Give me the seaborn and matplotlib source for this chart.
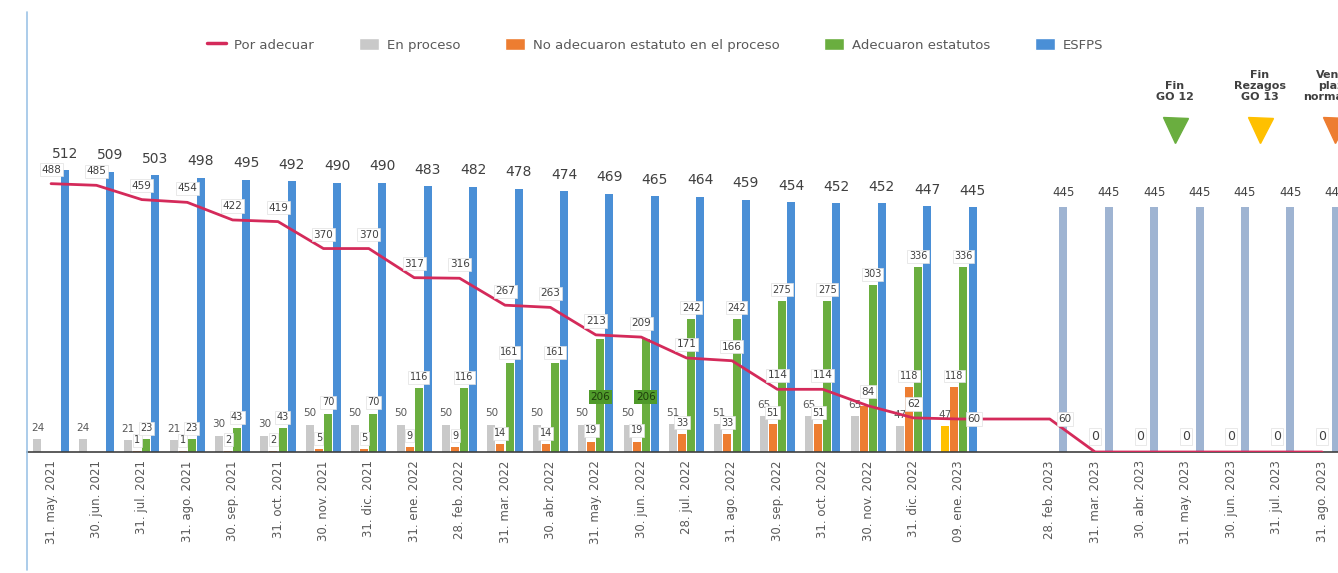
import numpy as np
import pandas as pd
import matplotlib
matplotlib.use("Agg")
import matplotlib.pyplot as plt
import seaborn as sns
from matplotlib.lines import Line2D
from matplotlib.patches import Patch

# ---------------- data ----------------
categories = ["31. may. 2021", "30. jun. 2021", "31. jul. 2021", "31. ago. 2021",
              "30. sep. 2021", "31. oct. 2021", "30. nov. 2021", "31. dic. 2021",
              "31. ene. 2022", "28. feb. 2022", "31. mar. 2022", "30. abr. 2022",
              "31. may. 2022", "30. jun. 2022", "28. jul. 2022", "31. ago. 2022",
              "30. sep. 2022", "31. oct. 2022", "30. nov. 2022", "31. dic. 2022",
              "09. ene. 2023", "", "28. feb. 2023", "31. mar. 2023", "30. abr. 2023",
              "31. may. 2023", "30. jun. 2023", "31. jul. 2023", "31. ago. 2023"]

en_proceso = [24, 24, 21, 21, 30, 30, 50, 50, 50, 50, 50, 50, 50, 50, 51, 51, 65, 65, 65, 47, 47,
              0, 0, 0, 0, 0, 0, 0, 0]
no_adecuaron = [0, 0, 1, 1, 2, 2, 5, 5, 9, 9, 14, 14, 19, 19, 33, 33, 51, 51, 84, 118, 118,
                0, 0, 0, 0, 0, 0, 0, 0]
adecuaron = [0, 0, 23, 23, 43, 43, 70, 70, 116, 116, 161, 161, 206, 206, 242, 242, 275, 275, 303, 336, 336,
             0, 0, 0, 0, 0, 0, 0, 0]
esfps = [512, 509, 503, 498, 495, 492, 490, 490, 483, 482, 478, 474, 469, 465, 464, 459, 454, 452, 452, 447, 445,
         0, 445, 445, 445, 445, 445, 445, 445]
por_adecuar = [488, 485, 459, 454, 422, 419, 370, 370, 317, 316, 267, 263, 213, 209, 171, 166, 114, 114, 84, 62, 60,
               None, 60, 0, 0, 0, 0, 0, 0]

series_names = ["En proceso", "No adecuaron estatuto en el proceso", "Adecuaron estatutos", "ESFPS"]
series_values = [en_proceso, no_adecuaron, adecuaron, esfps]
milestones = ["Fin\nGO 12", "Fin\nRezagos\nGO 13", "Vence\nplazo\nnormativo"]
milestone_pos = [24.76, 26.63, 28.28]

# ---------------- style ----------------
C_GRAY = "#c9c9c9"
C_ORANGE = "#ed7d31"
C_GREEN = "#6aae3f"
C_BLUE = "#4a8fd6"
C_BLUE_LIGHT = "#9fb4d2"
C_YELLOW = "#ffc000"
C_LINE = "#d42a5a"
TXT = "#404040"
palette = [C_GRAY, C_ORANGE, C_GREEN, C_BLUE]

sns.set_theme(style="white")
plt.rcParams["font.family"] = ["DejaVu Sans"]

rows = []
for s, vals in zip(series_names, series_values):
    for c, v in zip(categories, vals):
        rows.append({"fecha": c, "serie": s, "valor": v})
df = pd.DataFrame(rows)

fig = plt.figure(figsize=(13.38, 5.73), dpi=100)
ax = fig.add_axes([27 / 1338, 1 - 452 / 573, 1 - 27 / 1338, 452 / 573])

sns.barplot(data=df, x="fecha", y="valor", hue="serie", order=categories,
            hue_order=series_names, palette=palette, saturation=1, width=0.8, gap=0.12,
            errorbar=None, legend=False, ax=ax)

box_w = dict(boxstyle="square,pad=0.15", fc="white", ec="#e0e0e0", lw=0.5)
box_g = dict(boxstyle="square,pad=0.15", fc="#4f9a2a", ec="none")

for j, cont in enumerate(ax.containers):
    vals = series_values[j]
    for bar in cont:
        cx = bar.get_x() + bar.get_width() / 2
        idx = int(round(cx))
        v = vals[idx]
        bar.set_edgecolor("none")
        if j == 0 and idx == 20:
            bar.set_facecolor(C_YELLOW)
        if j == 3 and idx >= 22:
            bar.set_facecolor(C_BLUE_LIGHT)
        if not v:
            continue
        if j == 3:
            big = idx < 21
            ax.annotate(str(v), (cx, v), xytext=(0, 12 if big else 11), textcoords="offset points",
                        ha="center", va="center", fontsize=10 if big else 8.5, color=TXT)
        elif j == 0:
            ax.annotate(str(v), (cx, v), xytext=(0, 8), textcoords="offset points",
                        ha="center", va="center", fontsize=7.5, color="#595959")
        elif j == 1:
            if idx == 18:
                continue
            ax.annotate(str(v), (cx, v), xytext=(0, 8), textcoords="offset points",
                        ha="center", va="center", fontsize=7, color=TXT, bbox=box_w, zorder=5)
        elif j == 2:
            if v == 206:
                ax.text(cx, 100, str(v), ha="center", va="center", fontsize=7.5,
                        color="#1e3d0c", bbox=box_g, zorder=5)
            else:
                ax.annotate(str(v), (cx, v), xytext=(0, 8), textcoords="offset points",
                            ha="center", va="center", fontsize=7, color=TXT, bbox=box_w, zorder=5)

# line "Por adecuar"
lx = [i for i, v in enumerate(por_adecuar) if v is not None]
ly = [por_adecuar[i] for i in lx]
sns.lineplot(x=lx, y=ly, color=C_LINE, linewidth=2.0, sort=False, ax=ax, zorder=4)
for i, v in zip(lx, ly):
    if i in (20, 22):
        off = (11, 0)
    elif v == 0:
        off = (0, 11)
    else:
        off = (0, 10)
    ax.annotate(str(v), (i, v), xytext=off, textcoords="offset points", ha="center", va="center",
                fontsize=9 if v == 0 else 7.5, color=TXT, bbox=box_w, zorder=6)

# milestones
mcolors = [C_GREEN, C_YELLOW, C_ORANGE]
for x, t, c in zip(milestone_pos, milestones, mcolors):
    ax.text(x, 637, t, ha="center", va="bottom", fontsize=8, fontweight="bold",
            color=TXT, linespacing=1.1, clip_on=False)
    ax.plot([x], [585], marker="v", markersize=18, color=c, clip_on=False, zorder=6)

ax.set_xlim(-0.53, 28.35)
ax.set_ylim(0, 822)
ax.set_xlabel("")
ax.set_ylabel("")
ax.set_yticks([])
ax.set_xticks(range(len(categories)))
ax.set_xticklabels(categories, rotation=90, fontsize=8.5, color="#595959")
ax.tick_params(axis="x", length=0, pad=6)
for s in ("top", "right", "left"):
    ax.spines[s].set_visible(False)
ax.spines["bottom"].set_color("#404040")
ax.spines["bottom"].set_linewidth(1.2)

handles = [Line2D([0], [0], color=C_LINE, lw=2.5),
           Patch(facecolor=C_GRAY), Patch(facecolor=C_ORANGE),
           Patch(facecolor=C_GREEN), Patch(facecolor=C_BLUE)]
labels = ["Por adecuar"] + series_names
fig.legend(handles, labels, loc="center", bbox_to_anchor=(655 / 1338, 1 - 45 / 573), ncol=5,
           frameon=False, fontsize=9.5, handlelength=1.5, handleheight=1.0,
           columnspacing=3.4, handletextpad=0.6, labelcolor="#595959")

fig.add_artist(Line2D([27 / 1338, 27 / 1338], [1 - 12 / 573, 1 - 570 / 573],
                      color="#9dc3e6", lw=1.2))

fig.savefig("out.png", dpi=100)
